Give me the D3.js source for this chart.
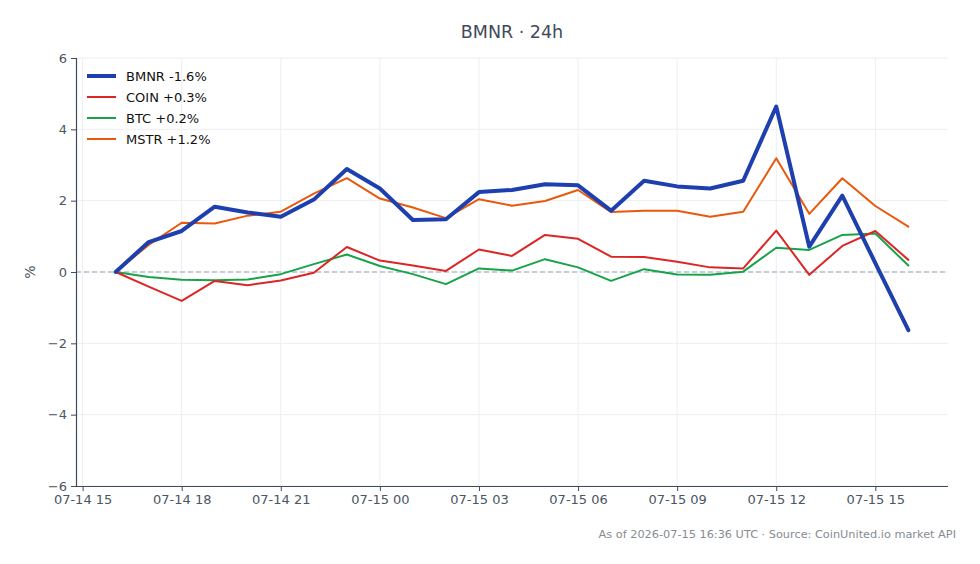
<!DOCTYPE html>
<html><head><meta charset="utf-8">
<script src="https://cdn.jsdelivr.net/npm/d3@7/dist/d3.min.js"></script>
<style>body{margin:0;background:#fff;font-family:"DejaVu Sans",sans-serif;}</style>
</head><body><svg id="c" width="980" height="564"></svg>
<script>
const startTime = "2026-07-14T16:00:00Z";
const hours = d3.range(25);
const BMNR = [0,0.84,1.15,1.83,1.67,1.55,2.03,2.89,2.34,1.46,1.48,2.24,2.30,2.46,2.43,1.72,2.56,2.40,2.34,2.56,4.64,0.71,2.14,0.25,-1.63];
const COIN = [0,-0.41,-0.81,-0.25,-0.37,-0.24,-0.02,0.70,0.32,0.18,0.03,0.63,0.45,1.04,0.93,0.43,0.42,0.29,0.13,0.10,1.16,-0.08,0.73,1.15,0.34];
const BTC  = [0,-0.14,-0.22,-0.23,-0.21,-0.06,0.22,0.49,0.17,-0.06,-0.34,0.10,0.04,0.36,0.13,-0.25,0.08,-0.07,-0.08,0.01,0.68,0.62,1.04,1.08,0.18];
const MSTR = [0,0.76,1.38,1.36,1.58,1.69,2.20,2.63,2.06,1.81,1.51,2.04,1.86,1.99,2.30,1.68,1.72,1.72,1.55,1.69,3.19,1.63,2.63,1.85,1.27];
const seriesNames = ["BMNR","COIN","BTC","MSTR"];
const legendLabels = ["BMNR -1.6%","COIN +0.3%","BTC +0.2%","MSTR +1.2%"];
const colors = ["#1e40af","#dc2626","#16a34a","#ea580c"];
const widths = [4,2,2,2];
const yTicks = [-6,-4,-2,0,2,4,6];
const xTickHours = [15,18,21,24,27,30,33,36,39]; // hours after 07-14 00:00
const title = "BMNR · 24h";
const footer = "As of 2026-07-15 16:36 UTC · Source: CoinUnited.io market API";

const seriesVals = [BMNR, COIN, BTC, MSTR];
const t0 = new Date(startTime);
const times = hours.map(h => new Date(t0.getTime() + h*3600e3));
const day0 = new Date("2026-07-14T00:00:00Z");
const xTickDates = xTickHours.map(h => new Date(day0.getTime() + h*3600e3));

const svg = d3.select("#c");
const L = 76, R = 948, T = 58, B = 486;
const pad = 1.2*3600e3;
const x = d3.scaleUtc().domain([new Date(times[0].getTime()-pad), new Date(times[times.length-1].getTime()+pad)]).range([L, R]);
const y = d3.scaleLinear().domain([-6, 6]).range([B, T]);

// grid
const g = svg.append("g");
g.selectAll(".gy").data(yTicks).join("line")
  .attr("x1", L).attr("x2", R).attr("y1", d => y(d)).attr("y2", d => y(d))
  .attr("stroke", "#eceef2").attr("stroke-width", 1);
g.selectAll(".gx").data(xTickDates).join("line")
  .attr("x1", d => x(d)).attr("x2", d => x(d)).attr("y1", T).attr("y2", B)
  .attr("stroke", "#eceef2").attr("stroke-width", 1);

// zero line
svg.append("line").attr("x1", L).attr("x2", R).attr("y1", y(0)).attr("y2", y(0))
  .attr("stroke", "#94a3b8").attr("stroke-width", 1).attr("stroke-dasharray", "5,3");

// axes
const fmt = d3.utcFormat("%m-%d %H");
const xAxis = d3.axisBottom(x).tickValues(xTickDates).tickFormat(fmt).tickSize(5).tickPadding(4);
const yAxis = d3.axisLeft(y).tickValues(yTicks).tickFormat(d => d < 0 ? "\u2212" + Math.abs(d) : d).tickSize(5).tickPadding(4);
const gx = svg.append("g").attr("transform", `translate(0,${B})`).call(xAxis);
const gy = svg.append("g").attr("transform", `translate(${L},0)`).call(yAxis);
[gx, gy].forEach(a => {
  a.select(".domain").attr("stroke", "#3f4a5a").attr("stroke-width", 1.2);
  a.selectAll(".tick line").attr("stroke", "#3f4a5a");
  a.selectAll("text").attr("fill", "#4b5563").attr("font-size", 13).attr("font-family", "DejaVu Sans");
});
gx.select(".domain").attr("d", `M${L},0.5H${R}`);
gy.select(".domain").attr("d", `M0.5,${B}V${T}`);

// lines
const line = d3.line().x((d, i) => x(times[i])).y(d => y(d));
[3,2,1,0].forEach(k => {
  svg.append("path").datum(seriesVals[k]).attr("d", line)
    .attr("fill", "none").attr("stroke", colors[k]).attr("stroke-width", widths[k])
    .attr("stroke-linejoin", "round").attr("stroke-linecap", "round");
});

// legend
const lg = svg.append("g");
seriesNames.forEach((n, i) => {
  const yy = 76 + i*21;
  lg.append("line").attr("x1", 87).attr("x2", 116).attr("y1", yy).attr("y2", yy)
    .attr("stroke", colors[i]).attr("stroke-width", widths[i]);
  lg.append("text").attr("x", 126).attr("y", yy).attr("dy", "0.35em")
    .attr("font-size", 13).attr("fill", "#111").text(legendLabels[i]);
});

// title
svg.append("text").attr("x", (L+R)/2).attr("y", 32).attr("dy", "0.35em").attr("text-anchor", "middle")
  .attr("font-size", 17.5).attr("fill", "#3f4a5a").text(title);
// y label
svg.append("text").attr("transform", `translate(30,${y(0)}) rotate(-90)`).attr("text-anchor", "middle")
  .attr("dy", "0.35em").attr("font-size", 14).attr("fill", "#4b5563").text("%");
// footer
svg.append("text").attr("x", 956).attr("y", 534).attr("dy", "0.35em").attr("text-anchor", "end")
  .attr("font-size", 11.3).attr("fill", "#868b94").text(footer);
</script></body></html>
